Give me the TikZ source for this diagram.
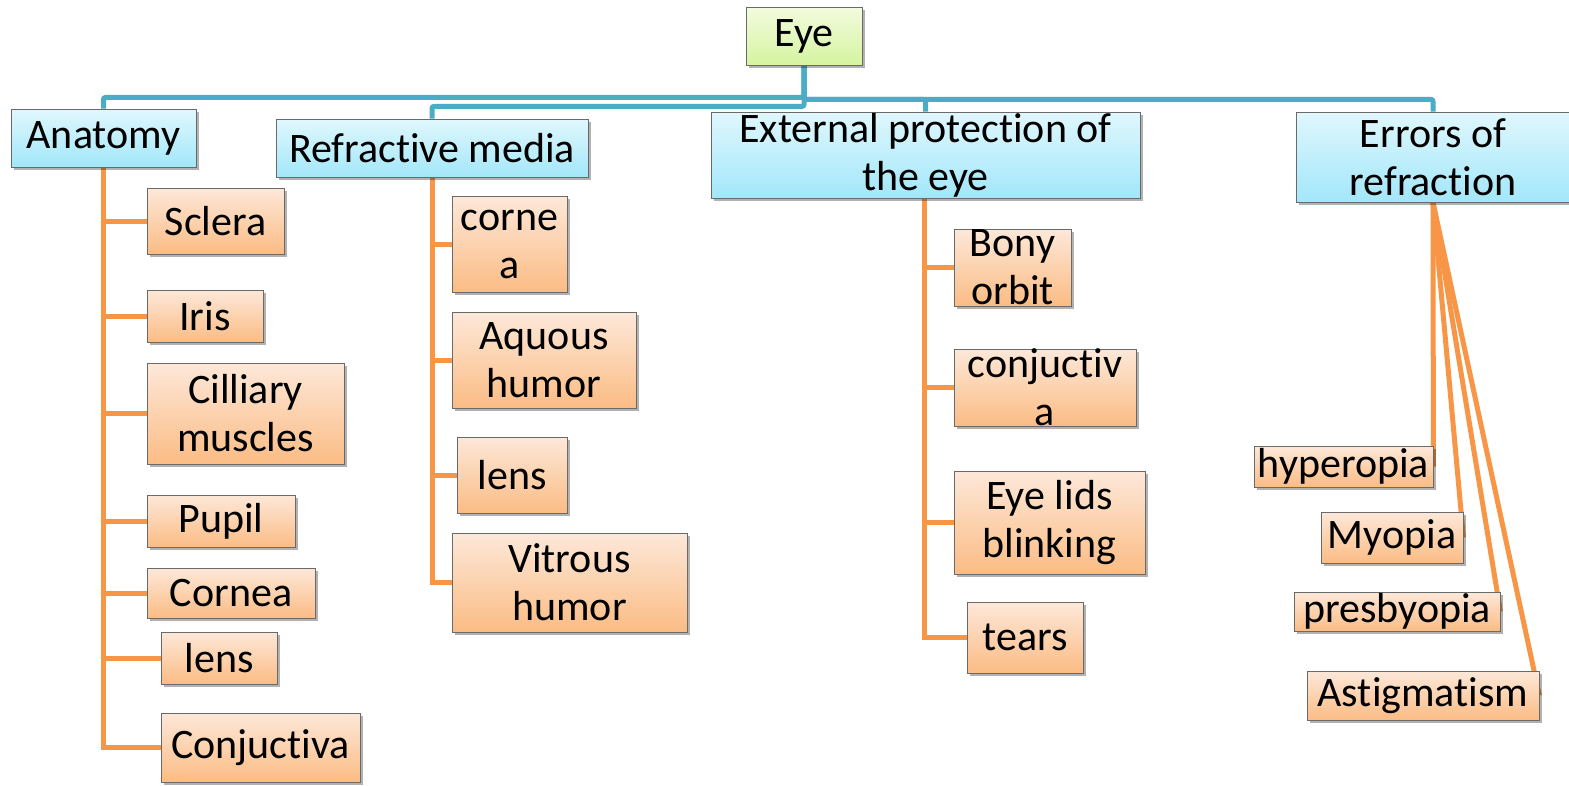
\documentclass[tikz,border=0pt]{standalone}
\usepackage{fontspec}
\setmainfont{Carlito}[Ligatures=NoCommon]
\usetikzlibrary{shadows,backgrounds}
\definecolor{bconn}{HTML}{4BACC6}
\definecolor{oconn}{HTML}{F79646}
\definecolor{boxline}{HTML}{6A6A6A}
\definecolor{bluetop}{HTML}{E0F7FD}
\definecolor{bluebot}{HTML}{A2E7FA}
\definecolor{peachtop}{HTML}{FDE8D9}
\definecolor{peachbot}{HTML}{FBBC84}
\definecolor{greentop}{HTML}{F3FBDE}
\definecolor{greenbot}{HTML}{D5F4A0}
\tikzset{
  boxbase/.style={draw=boxline, line width=0.8pt, inner sep=0pt,
    drop shadow={shadow xshift=2.5pt, shadow yshift=-3pt, fill=black, opacity=0.3}},
  bluebox/.style={boxbase, top color=bluetop, bottom color=bluebot},
  peachbox/.style={boxbase, top color=peachtop, bottom color=peachbot},
  greenbox/.style={boxbase, top color=greentop, bottom color=greenbot},
  txt/.style={align=center, inner sep=0pt, font=\fontsize{42}{48}\selectfont},
  bline/.style={draw=bconn, line width=5pt, rounded corners=2pt},
  oline/.style={draw=oconn, line width=5pt},
}
% #1 name, #2 style, #3 left, #4 top, #5 right, #6 bottom, #7 text
\newcommand\mybox[7]{%
  \node[#2, minimum width={(#5-#3)*1pt}, minimum height={(#6-#4)*1pt}] (#1) at ({(#3+#5)/2},{(#4+#6)/2}) {};
  \node[txt] (#1-t) at (#1.center) {#7};}
\begin{document}
\begin{tikzpicture}[x=1pt,y=-1pt]
\useasboundingbox (0,0) rectangle (1569,785);
% root
\mybox{eye}{greenbox}{746}{7}{862}{65}{Eye}
% level 1
\mybox{anat}{bluebox}{11}{109}{196}{167}{Anatomy}
\mybox{refr}{bluebox}{276}{119}{588}{177}{Refractive media}
\mybox{ext}{bluebox}{711}{112}{1140}{198}{External protection of\\the eye}
\mybox{err}{bluebox}{1296}{112}{1570}{202}{Errors of\\refraction}
% anatomy
\mybox{sclera}{peachbox}{147}{188}{284}{254}{Sclera}
\mybox{iris}{peachbox}{147}{290}{263}{342}{Iris}
\mybox{cil}{peachbox}{147}{363}{344}{464}{Cilliary\\muscles}
\mybox{pupil}{peachbox}{147}{495}{295}{547}{Pupil}
\mybox{cornea}{peachbox}{147}{568}{315}{618}{Cornea}
\mybox{lensA}{peachbox}{161}{632}{277}{684}{lens}
\mybox{conjA}{peachbox}{161}{713}{360}{782}{Conjuctiva}
% refractive media
\mybox{corneR}{peachbox}{452}{196}{567}{292}{corne\\a}
\mybox{aq}{peachbox}{452}{312}{636}{408}{Aquous\\humor}
\mybox{lensR}{peachbox}{457}{437}{567}{513}{lens}
\mybox{vit}{peachbox}{452}{533}{687}{632}{Vitrous\\humor}
% external protection
\mybox{bony}{peachbox}{954}{229}{1071}{306}{Bony\\orbit}
\mybox{conjE}{peachbox}{954}{349}{1136}{426}{conjuctiv\\a}
\mybox{lids}{peachbox}{954}{471}{1145}{574}{Eye lids\\blinking}
\mybox{tears}{peachbox}{967}{602}{1083}{673}{tears}
% errors of refraction
\mybox{hyp}{peachbox}{1254}{446}{1433}{487}{hyperopia}
\mybox{myo}{peachbox}{1321}{512}{1463}{563}{Myopia}
\mybox{pres}{peachbox}{1294}{592}{1500}{631}{presbyopia}
\mybox{ast}{peachbox}{1307}{671}{1539}{720}{Astigmatism}
\begin{scope}[on background layer]
  % blue connectors
  \draw[bline] (eye.south) -- ++(0,32) -| (anat.north);
  \draw[bline] (eye.south) -- ++(0,41) -| (refr.north);
  \draw[bline] (eye.south) -- ++(0,34) -| (ext.north);
  \draw[bline] (eye.south) -- ++(0,34) -| (err.north);
  % anatomy
  \foreach \c in {sclera,iris,cil,pupil,cornea,lensA,conjA}
    \draw[oline] (anat.south) |- (\c.west);
  % refractive
  \foreach \c in {corneR,aq,lensR,vit}
    \draw[oline] (refr.south) |- (\c.west);
  % external
  \foreach \c in {bony,conjE,lids,tears}
    \draw[oline] (ext.south -| 924,0) |- (\c.west);
  % errors
  \foreach \c in {hyp,myo,pres,ast}
    \draw[oline] (err.south) -- (\c.east);
\end{scope}
\end{tikzpicture}
\end{document}
